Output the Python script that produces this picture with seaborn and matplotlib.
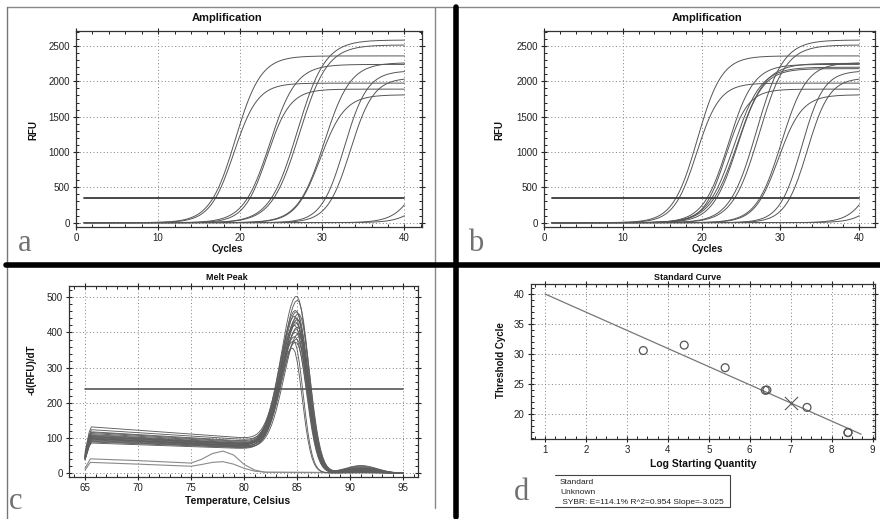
import numpy as np
import pandas as pd
import matplotlib
matplotlib.use("Agg")
import matplotlib.pyplot as plt
import seaborn as sns
from matplotlib.ticker import MultipleLocator
from matplotlib.lines import Line2D

# ------------------------------------------------------------------ data
# Panel a: amplification curves (threshold cycle, plateau RFU, steepness)
amp_a_ct = [16.7, 17.0, 20.9, 21.2, 23.8, 24.1, 27.5, 27.6, 30.4, 31.2, 40.6, 42.2]
amp_a_plateau = [2360, 1975, 2240, 1890, 2585, 2515, 2265, 1810, 2150, 2050, 1500, 1500]
amp_a_steep = [1.55, 1.45, 1.6, 1.4, 1.7, 1.7, 1.6, 1.5, 1.4, 1.4, 1.5, 1.5]

# Panel b: amplification curves
amp_b_ct = [16.75, 17.15, 20.7, 21.0, 21.3, 21.6, 21.9, 23.8, 24.2, 27.4, 27.6, 30.4, 31.2, 40.6, 42.2]
amp_b_plateau = [2360, 1975, 2240, 1890, 2200, 2255, 2180, 2585, 2515, 2265, 1810, 2150, 2050, 1500, 1500]
amp_b_steep = [1.55, 1.45, 1.6, 1.4, 1.7, 1.75, 1.6, 1.7, 1.7, 1.6, 1.5, 1.4, 1.4, 1.5, 1.5]

amp_threshold = 350
amp_cycle_range = [1, 40]

# Panel c: melt peaks
melt_peak = [502, 490, 462, 458, 452, 446, 440, 436, 430, 425, 420, 414, 408, 400, 395, 388, 380, 372, 375, 355]
melt_center = [85.0, 85.1, 84.9, 85.0, 85.2, 84.8, 85.0, 85.1, 84.9, 85.0, 84.8, 85.1, 85.0, 84.9, 85.2, 84.8, 85.0, 84.9, 84.7, 84.6]
melt_sig_right = [1.05, 1.05, 1.05, 1.05, 1.05, 1.05, 1.05, 1.05, 1.05, 1.05, 1.05, 1.05, 1.05, 1.05, 1.05, 1.05, 1.05, 1.05, 0.8, 0.8]
melt_v65 = [60, 55, 52, 50, 50, 48, 47, 46, 45, 44, 44, 43, 42, 41, 40, 40, 39, 38, 45, 44]
melt_v655 = [132, 124, 118, 116, 113, 110, 108, 106, 104, 102, 100, 98, 97, 95, 93, 91, 89, 86, 104, 99]
melt_v82 = [96, 92, 88, 86, 84, 82, 81, 80, 79, 78, 76, 75, 74, 73, 72, 71, 70, 68, 80, 76]
melt_hump = [22, 20, 18, 16, 15, 14, 13, 12, 11, 10, 10, 9, 8, 8, 7, 6, 5, 4, 3, 2]

low_temp = [65, 65.5, 70, 75, 76, 77, 78, 79, 80, 81, 82, 85, 90, 95]
low_curve_1 = [14, 41, 36, 29, 40, 56, 63, 52, 25, 9, 3, 3, 2, 1]
low_curve_2 = [9, 31, 26, 20, 25, 31, 33, 26, 14, 6, 3, 2, 2, 1]
melt_threshold = 240
melt_temp_range = [65, 95]

# Panel d: standard curve
std_log = [3.4, 4.4, 5.4, 6.38, 6.42, 7.4, 8.4, 8.4]
std_ct = [30.6, 31.5, 27.75, 24.0, 24.05, 21.15, 17.0, 16.95]
unk_log = [7.0]
unk_ct = [21.9]
fit_log = [1.0, 8.72]
fit_ct = [40.0, 16.7]
legend_lines = ["Standard", "Unknown", " SYBR: E=114.1% R^2=0.954 Slope=-3.025"]

# ------------------------------------------------------------------ helpers
W, H = 880, 519
sns.set_style("ticks")
plt.rcParams['font.family'] = ['Liberation Sans', 'DejaVu Sans']

fig = plt.figure(figsize=(W / 100, H / 100), dpi=100)


def fx(px):
    return px / W


def fy(py):
    return 1 - py / H


def add_axes(l, r, t, b):
    return fig.add_axes([fx(l), fy(b), fx(r) - fx(l), (b - t) / H])


def style(ax, xmaj, xmin_, ymaj, ymin_):
    ax.xaxis.set_major_locator(MultipleLocator(xmaj))
    ax.xaxis.set_minor_locator(MultipleLocator(xmin_))
    ax.yaxis.set_major_locator(MultipleLocator(ymaj))
    ax.yaxis.set_minor_locator(MultipleLocator(ymin_))
    ax.grid(True, which='major', linestyle=(0, (1, 2.5)), color='#808080', linewidth=0.7)
    ax.tick_params(which='major', direction='inout', length=5, width=0.8,
                   labelsize=7, pad=2, top=True, right=True, colors='#222')
    ax.tick_params(which='minor', direction='in', length=2.5, width=0.7,
                   top=True, right=True, colors='#222')
    for s in ax.spines.values():
        s.set_color('#333')
        s.set_linewidth(0.9)
    ax.set_xlabel("")
    ax.set_ylabel("")
    ax.set_axisbelow(True)


def amp_frame(ct, plat, steep):
    cyc = np.arange(amp_cycle_range[0], amp_cycle_range[1] + 0.001, 0.25)
    rows = []
    for i, (c, p, s) in enumerate(zip(ct, plat, steep)):
        m = c + s * np.log(p / amp_threshold - 1)
        r = p / (1 + np.exp(-(cyc - m) / s))
        r = r - r[0]
        rows.append(pd.DataFrame({"cycle": cyc, "rfu": r, "curve": i}))
    return pd.concat(rows, ignore_index=True)


def draw_amp(ax, ct, plat, steep):
    df = amp_frame(ct, plat, steep)
    sns.lineplot(data=df, x="cycle", y="rfu", units="curve", estimator=None,
                 color="#555555", linewidth=0.7, ax=ax)
    thr = pd.DataFrame({"cycle": amp_cycle_range, "rfu": [amp_threshold] * 2})
    sns.lineplot(data=thr, x="cycle", y="rfu", color="#3a3a3a", linewidth=1.3, ax=ax)
    ax.set_ylim(-57, 2717)
    style(ax, 10, 2, 500, 100)


# ------------------------------------------------------------------ panel a
ax_a = add_axes(76, 421.7, 30.7, 226.7)
draw_amp(ax_a, amp_a_ct, amp_a_plateau, amp_a_steep)
ax_a.set_xlim(0, 42.1)

# ------------------------------------------------------------------ panel b
ax_b = add_axes(544, 875, 30.7, 226.7)
draw_amp(ax_b, amp_b_ct, amp_b_plateau, amp_b_steep)
ax_b.set_xlim(0, 42.0)

# ------------------------------------------------------------------ panel c
ax_c = add_axes(69, 418.3, 286, 476.7)
T = np.round(np.arange(melt_temp_range[0], melt_temp_range[1] + 0.001, 0.2), 2)
rows = []
for i in range(len(melt_peak)):
    base = np.where(T < 65.5,
                    melt_v65[i] + (melt_v655[i] - melt_v65[i]) * (T - 65) / 0.5,
                    melt_v655[i] + (melt_v82[i] - melt_v655[i]) * (T - 65.5) / 16.5)
    base = base * (1 - 1 / (1 + np.exp(-(T - 86.0) / 0.45)))
    c = melt_center[i]
    sig = np.where(T < c, 1.45, melt_sig_right[i])
    g = np.exp(-(T - c) ** 2 / (2 * sig ** 2))
    base_c = np.interp(c, T, base)
    val = base + (melt_peak[i] - base_c) * g + melt_hump[i] * np.exp(-(T - 91) ** 2 / (2 * 1.5 ** 2))
    rows.append(pd.DataFrame({"temp": T, "val": val, "curve": i}))
melt_df = pd.concat(rows, ignore_index=True)
low_df = pd.concat([
    pd.DataFrame({"temp": low_temp, "val": low_curve_1, "curve": 0}),
    pd.DataFrame({"temp": low_temp, "val": low_curve_2, "curve": 1}),
], ignore_index=True)
sns.lineplot(data=low_df, x="temp", y="val", units="curve", estimator=None,
             color="#8a8a8a", linewidth=0.8, ax=ax_c)
sns.lineplot(data=melt_df, x="temp", y="val", units="curve", estimator=None,
             color="#5e5e5e", linewidth=0.65, ax=ax_c)
mthr = pd.DataFrame({"temp": melt_temp_range, "val": [melt_threshold] * 2})
sns.lineplot(data=mthr, x="temp", y="val", color="#555", linewidth=1.2, ax=ax_c)
ax_c.set_xlim(63.49, 96.41)
ax_c.set_ylim(-9.7, 532)
style(ax_c, 5, 1, 100, 20)

# ------------------------------------------------------------------ panel d
ax_d = add_axes(530.7, 875, 284, 439)
sns.lineplot(x=fit_log, y=fit_ct, color="#777", linewidth=0.9, ax=ax_d)
sns.scatterplot(x=std_log, y=std_ct, marker='o', s=32, color='#555',
                facecolor='none', edgecolor='#555', linewidth=0.9, ax=ax_d, zorder=3)
sns.scatterplot(x=unk_log, y=unk_ct, marker='x', s=90, color='#555',
                linewidth=0.8, ax=ax_d, zorder=3)
ax_d.set_xlim(0.65, 9.06)
ax_d.set_ylim(15.9, 41.66)
style(ax_d, 1, 0.25, 5, 1)

# ------------------------------------------------------------------ texts
bold = dict(fontweight='bold', color='#111', ha='center', va='center')
fig.text(fx(227), fy(18), "Amplification", fontsize=8, **bold)
fig.text(fx(707), fy(18), "Amplification", fontsize=8, **bold)
fig.text(fx(227), fy(249), "Cycles", fontsize=7, **bold)
fig.text(fx(707), fy(249), "Cycles", fontsize=7, **bold)
fig.text(fx(33), fy(130), "RFU", fontsize=7, rotation=90, **bold)
fig.text(fx(499), fy(130), "RFU", fontsize=7, rotation=90, **bold)
fig.text(fx(227), fy(278), "Melt Peak", fontsize=6.5, **bold)
fig.text(fx(238), fy(501), "Temperature, Celsius", fontsize=7.5, **bold)
fig.text(fx(31.5), fy(370), "-d(RFU)/dT", fontsize=7, rotation=90, **bold)
fig.text(fx(688), fy(278), "Standard Curve", fontsize=6.5, **bold)
fig.text(fx(703), fy(464), "Log Starting Quantity", fontsize=7.5, **bold)
fig.text(fx(500.7), fy(360), "Threshold Cycle", fontsize=7, rotation=90, **bold)

letter = dict(family=['Liberation Serif', 'DejaVu Serif'], fontsize=22,
              color='#707070', ha='center', va='baseline')
fig.text(fx(25), fy(251), "a", **letter)
fig.text(fx(476), fy(251), "b", **letter)
fig.text(fx(16), fy(509), "c", **letter)
fig.text(fx(521), fy(500), "d", **letter)

# legend box of panel d
for i, t in enumerate(legend_lines):
    fig.text(fx(560), fy(482 + 10 * i), t, fontsize=6, color='#222',
             ha='left', va='center')


def fline(xs, ys, color, lw):
    fig.add_artist(Line2D([fx(v) for v in xs], [fy(v) for v in ys],
                          color=color, linewidth=lw, transform=fig.transFigure))


fline([555, 730], [475, 475], '#444', 0.8)
fline([730, 730], [475, 507], '#444', 0.8)
fline([555, 730], [507, 507], '#444', 0.8)

# panel borders
fline([7, 880], [7, 7], '#888', 1.0)
fline([7, 7], [7, 519], '#777', 1.0)
fline([434.5, 434.5], [7, 262], '#888', 1.0)
fline([434.5, 434.5], [267, 508], '#888', 1.0)
fline([6, 880], [264.5, 264.5], '#000', 4.0)
fline([455.5, 455.5], [7, 517], '#000', 4.0)

fig.savefig("out.png", dpi=100)
